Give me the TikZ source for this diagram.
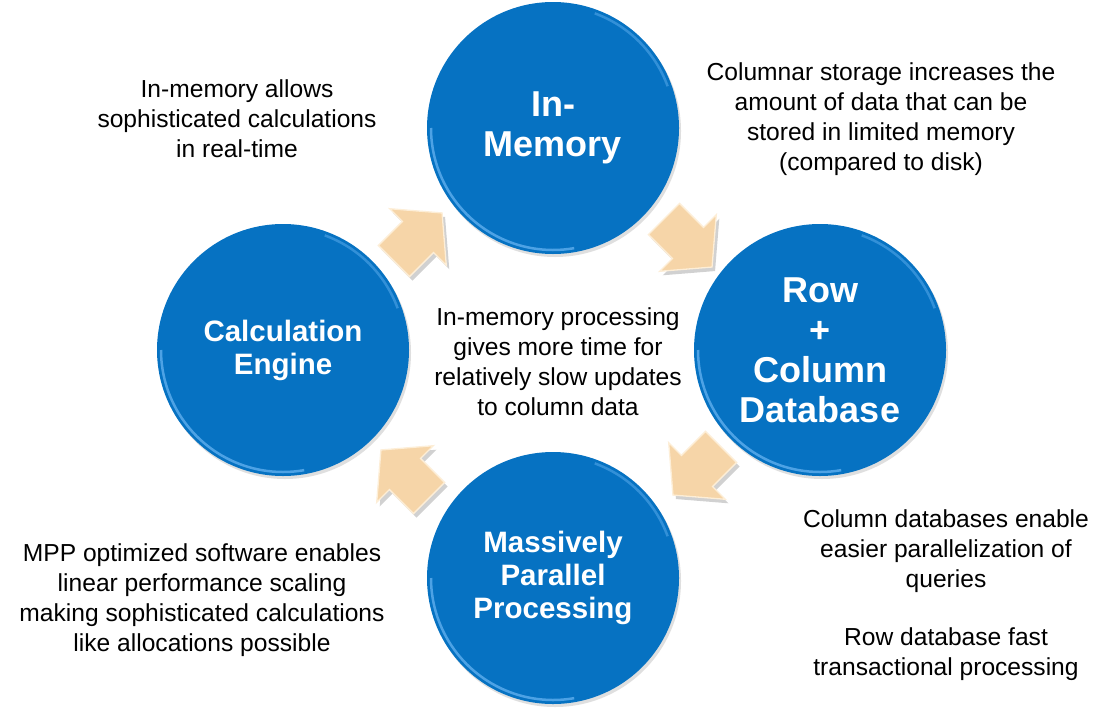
\documentclass[tikz,border=0pt]{standalone}
\usepackage{fontspec}
\setmainfont{Liberation Sans}
\usetikzlibrary{shadows}
\definecolor{bub}{RGB}{6,114,194}
\definecolor{rim}{RGB}{95,175,238}
\definecolor{peach}{RGB}{246,213,168}
\definecolor{peachlight}{RGB}{253,238,215}
\newcommand\arrowpath{(-34,-22) -- (0,-22) -- (0,-40) -- (34,0) -- (0,40) -- (0,22) -- (-34,22) -- cycle}
\newcommand\blockarrow[3]{%
  \fill[black,opacity=0.18,shift={(#1+3,#2-4)},rotate=#3] \arrowpath;
  \filldraw[fill=peach,draw=peachlight,line width=1.3pt,line join=miter,shift={(#1,#2)},rotate=#3] \arrowpath;}
\begin{document}
\begin{tikzpicture}[x=1pt,y=1pt,
  bubble/.style={circle,fill=bub,minimum size=252pt,inner sep=0pt,text=white,align=center,
    drop shadow={opacity=0.25,shadow xshift=2pt,shadow yshift=-3pt}},
  bigtxt/.style={font=\bfseries\fontsize{36}{40}\selectfont},
  midtxt/.style={font=\bfseries\fontsize{29.5}{33}\selectfont},
  note/.style={align=center,font=\fontsize{24.6}{30}\selectfont,text=black,inner sep=0pt},
  rimline/.style={rim,line width=2.5pt,opacity=0.8}]
\useasboundingbox (0,0) rectangle (1113,-715);
\fill[white] (0,0) rectangle (1113,-715);

% bubbles
\node[bubble,bigtxt] (im) at (553,-128) {In-\\Memory};
\node[bubble,bigtxt] (rc) at (820,-350) {Row\\+\\Column\\Database};
\node[bubble,midtxt] (ce) at (283,-350) {Calculation\\Engine};
\node[bubble,midtxt] (mpp) at (553,-578) {Massively\\Parallel\\Processing};

% rim highlights
\foreach \c in {(553,-128),(820,-350),(283,-350),(553,-578)}{
  \draw[rimline] \c ++(180:122) arc[start angle=180,end angle=280,radius=122];
  \draw[rimline,opacity=0.5] \c ++(20:122) arc[start angle=20,end angle=70,radius=122];
}

% block arrows
\blockarrow{418}{-237}{45}
\blockarrow{688}{-243}{-45}
\blockarrow{697}{-471}{-135}
\blockarrow{405}{-474}{135}

% notes
\node[note] (n1) at (237,-119) {In-memory allows\\sophisticated calculations\\in real-time};
\node[note] (n2) at (881,-119) {Columnar storage increases the\\amount of data that can be\\stored in limited memory\\(compared to disk)};
\node[note] (n3) at (558,-362) {In-memory processing\\gives more time for\\relatively slow updates\\to column data};
\node[note] (n4) at (946,-551) {Column databases enable\\easier parallelization of\\queries};
\node[note] (n5) at (946,-654) {Row database fast\\transactional processing};
\node[note] (n6) at (202,-600) {MPP optimized software enables\\linear performance scaling\\making sophisticated calculations\\like allocations possible};
\end{tikzpicture}
\end{document}
